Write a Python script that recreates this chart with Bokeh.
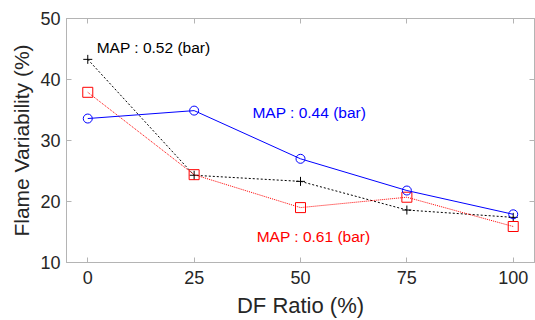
from bokeh.plotting import figure
from bokeh.models import LinearAxis, Range1d, FixedTicker, Label
from bokeh.embed import file_html
from bokeh.resources import INLINE

df_ratio = [0, 25, 50, 75, 100]
map_044 = [33.6, 34.9, 27.0, 21.8, 17.9]
map_052 = [43.3, 24.3, 23.3, 18.6, 17.4]
map_061 = [37.9, 24.4, 19.0, 20.7, 15.9]
x_ticks = [0, 25, 50, 75, 100]
y_ticks = [10, 20, 30, 40, 50]

AX = "#b4b4b4"
TXT = "#262626"
FONT = "Liberation Sans"

p = figure(width=535, height=320, output_backend="svg", toolbar_location=None,
           x_range=Range1d(-5, 105), y_range=Range1d(10, 50),
           min_border_left=66, min_border_right=1, min_border_top=18, min_border_bottom=58)
p.outline_line_color = AX
p.grid.visible = False
p.background_fill_color = "white"

for ax in (p.xaxis[0], p.yaxis[0]):
    ax.axis_line_color = AX
    ax.major_tick_line_color = AX
    ax.major_tick_in = 5
    ax.major_tick_out = 0
    ax.minor_tick_line_color = None
    ax.major_label_text_font = FONT
    ax.major_label_text_font_size = "18px"
    ax.major_label_text_color = TXT
    ax.axis_label_text_font = FONT
    ax.axis_label_text_font_style = "normal"
    ax.axis_label_text_color = TXT

p.xaxis.ticker = FixedTicker(ticks=x_ticks)
p.yaxis.ticker = FixedTicker(ticks=y_ticks)
p.xaxis.axis_label = "DF Ratio (%)"
p.yaxis.axis_label = "Flame Variability (%)"
p.xaxis.axis_label_text_font_size = "22px"
p.yaxis.axis_label_text_font_size = "21px"
p.xaxis.major_label_standoff = 8
p.yaxis.major_label_standoff = 6
p.xaxis.axis_label_standoff = 6
p.yaxis.axis_label_standoff = 4

def box_axis(ticks):
    a = LinearAxis(ticker=FixedTicker(ticks=ticks),
                   major_label_overrides={t: "" for t in ticks},
                   major_label_text_color=None, major_label_text_font_size="1px",
                   major_label_standoff=0,
                   axis_line_color=AX, major_tick_line_color=AX,
                   major_tick_in=5, major_tick_out=0, minor_tick_line_color=None)
    return a

p.add_layout(box_axis(x_ticks), "above")
p.add_layout(box_axis(y_ticks), "right")

# black dotted with plus
p.line(df_ratio, map_052, line_color="black", line_width=1, line_dash="2 2")
p.scatter(df_ratio, map_052, marker="cross", size=9, line_color="black", line_width=1)
# red dotted with squares
p.line(df_ratio, map_061, line_color="#ff0000", line_width=1, line_dash="1 1")
p.scatter(df_ratio, map_061, marker="square", size=10, line_color="#ff0000",
          fill_color=None, line_width=1)
# blue solid with circles
p.line(df_ratio, map_044, line_color="#0000ff", line_width=1)
p.scatter(df_ratio, map_044, marker="circle", size=9, line_color="#0000ff",
          fill_color=None, line_width=1)

p.add_layout(Label(x=2.1, y=45.2, text="MAP : 0.52 (bar)", text_color="black",
                   text_font=FONT, text_font_size="15.5px", text_baseline="middle"))
p.add_layout(Label(x=38.7, y=34.6, text="MAP : 0.44 (bar)", text_color="#0000ff",
                   text_font=FONT, text_font_size="15.5px", text_baseline="middle"))
p.add_layout(Label(x=39.7, y=14.3, text="MAP : 0.61 (bar)", text_color="#ff0000",
                   text_font=FONT, text_font_size="15.5px", text_baseline="middle"))

open("out.html", "w").write(file_html(p, INLINE))
